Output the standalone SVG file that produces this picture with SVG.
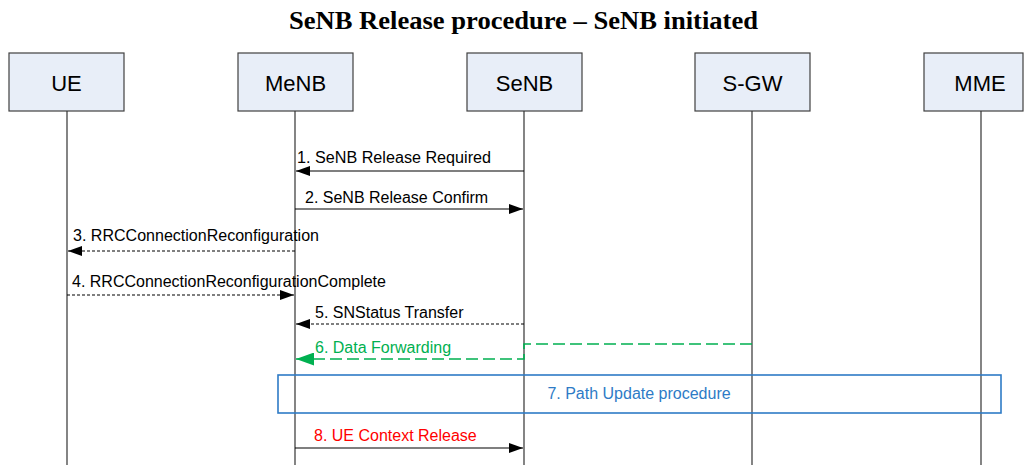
<svg xmlns="http://www.w3.org/2000/svg" width="1025" height="465" viewBox="0 0 1025 465">
<defs>
<style>
.box{fill:#E8EEF8;stroke:#404040;stroke-width:1.2}
.hdr{font-family:"Liberation Sans",Arial,sans-serif;font-size:22px;fill:#000;text-anchor:middle}
.life{stroke:#333;stroke-width:1.2;fill:none}
.msg{stroke:#000;stroke-width:1.2;fill:none}
.dash{stroke-dasharray:3 2}
.lbl{font-family:"Liberation Sans",Arial,sans-serif;font-size:16px;fill:#000}
.grn{stroke:#00B050;stroke-width:1.6;fill:none;stroke-dasharray:12 5}
</style>
<marker id="ah" markerUnits="userSpaceOnUse" markerWidth="14" markerHeight="10" refX="14" refY="5" orient="auto">
<path d="M0,0 L14,5 L0,10 z" fill="#000"/>
</marker>
<marker id="ahg" markerUnits="userSpaceOnUse" markerWidth="18" markerHeight="13" refX="18" refY="6.5" orient="auto">
<path d="M0,0 L18,6.5 L0,13 z" fill="#00B050"/>
</marker>
</defs>
<rect width="1025" height="465" fill="#fff"/>
<text x="289" y="29" textLength="469" lengthAdjust="spacingAndGlyphs" font-family="'Liberation Serif','Times New Roman',serif" font-weight="bold" font-size="25">SeNB Release procedure – SeNB initiated</text>

<g id="node-ue"><rect class="box" x="9" y="53" width="115" height="58"/><text class="hdr" x="66.5" y="90.5">UE</text></g>
<g id="node-menb"><rect class="box" x="238" y="53" width="115" height="58"/><text class="hdr" x="295.5" y="90.5">MeNB</text></g>
<g id="node-senb"><rect class="box" x="467" y="53" width="115" height="58"/><text class="hdr" x="524.5" y="90.5">SeNB</text></g>
<g id="node-sgw"><rect class="box" x="695" y="53" width="115" height="58"/><text class="hdr" x="752.5" y="90.5">S-GW</text></g>
<g id="node-mme"><rect class="box" x="924" y="53" width="99" height="58"/><text class="hdr" x="980" y="90.5">MME</text></g>

<g id="lifelines">
<line class="life" x1="67" y1="111" x2="67" y2="465"/>
<line class="life" x1="295" y1="111" x2="295" y2="465"/>
<line class="life" x1="524" y1="111" x2="524" y2="465"/>
<line class="life" x1="752" y1="111" x2="752" y2="465" stroke="#555"/>
<line class="life" x1="981" y1="111" x2="981" y2="465" stroke="#555"/>
</g>

<g id="node-path-update">
<rect x="278" y="375" width="723" height="38" fill="none" stroke="#2E7BC6" stroke-width="1.6"/>
<text x="639" y="399" font-family="'Liberation Sans',Arial,sans-serif" font-size="16" fill="#2E7BC6" text-anchor="middle">7. Path Update procedure</text>
</g>

<g id="connectors">
<line class="msg" x1="524" y1="171" x2="296" y2="171" marker-end="url(#ah)"/>
<text class="lbl" x="297" y="163" textLength="194" lengthAdjust="spacingAndGlyphs">1. SeNB Release Required</text>

<line class="msg" x1="295" y1="209" x2="523" y2="209" marker-end="url(#ah)"/>
<text class="lbl" x="305" y="203">2. SeNB Release Confirm</text>

<line class="msg dash" x1="295" y1="251" x2="68" y2="251" marker-end="url(#ah)"/>
<text class="lbl" x="73" y="241" textLength="246" lengthAdjust="spacingAndGlyphs">3. RRCConnectionReconfiguration</text>

<line class="msg dash" x1="67" y1="295" x2="294" y2="295" marker-end="url(#ah)"/>
<text class="lbl" x="72" y="287">4. RRCConnectionReconfigurationComplete</text>

<line class="msg dash" x1="524" y1="324" x2="296" y2="324" marker-end="url(#ah)"/>
<text class="lbl" x="315" y="318">5. SNStatus Transfer</text>

<path class="grn" d="M752,344 L524,344 L524,359 L296,359" marker-end="url(#ahg)"/>
<text class="lbl" x="315" y="353" fill="#00B050" style="fill:#00B050">6. Data Forwarding</text>

<line class="msg" x1="295" y1="448" x2="523" y2="448" marker-end="url(#ah)"/>
<text class="lbl" x="314" y="441" style="fill:#FF0000">8. UE Context Release</text>
</g>
</svg>
